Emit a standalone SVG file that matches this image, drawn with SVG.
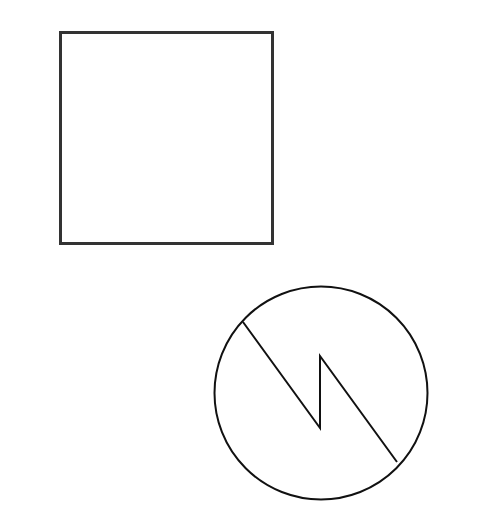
<svg xmlns="http://www.w3.org/2000/svg" width="482" height="520" viewBox="0 0 482 520">
<style>
.sq{fill:#fff;stroke:#333;stroke-width:3}
.ci{fill:#fff;stroke:#111;stroke-width:2}
.zz{fill:none;stroke:#111;stroke-width:2;stroke-linejoin:miter}
</style>
<rect width="482" height="520" fill="#fff"/>
<g id="square">
<rect class="sq" x="60.5" y="32.5" width="212" height="211"/>
</g>
<g id="generator">
<circle class="ci" cx="321" cy="393" r="106.5"/>
<polyline class="zz" points="243,322 320,428 320,356 397,462"/>
</g>
<g id="connectors"></g>
</svg>
